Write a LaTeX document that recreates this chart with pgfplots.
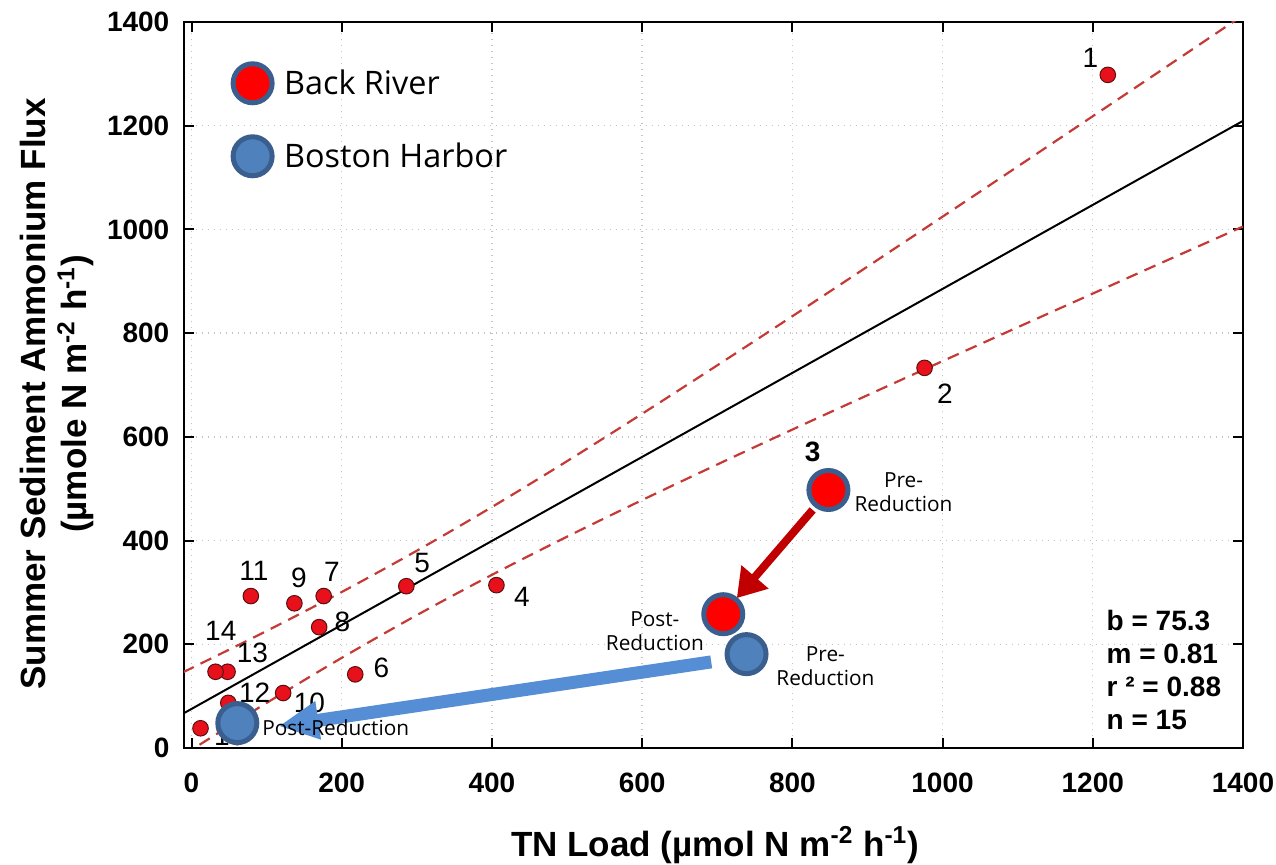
\documentclass[border=0pt]{standalone}
\usepackage{fontspec}
\setmainfont{Liberation Sans}
\newfontfamily\comic{Open Sans}
\usepackage{pgfplots}
\usepackage{pgfplotstable}
\pgfplotsset{compat=1.18}
\usetikzlibrary{arrows.meta}
\definecolor{ptred}{HTML}{E8101A}
\definecolor{ptedge}{HTML}{5A1010}
\definecolor{dashred}{HTML}{C43A36}
\definecolor{ringblue}{HTML}{3A5F8E}
\definecolor{harborblue}{HTML}{4F81BD}
\definecolor{arrowred}{HTML}{C00000}
\definecolor{arrowblue}{HTML}{558ED5}
\definecolor{gridgray}{HTML}{C4C4C4}

\pgfplotstableread{
x y
1220 1298
976 733
848 497
406 314
286 312
218 142
176 293
170 233
137 279
122 106
79 293
49 87
48 147
32 147
12 38
}\sites

\pgfplotstableread{
x upper lower
-10 147.0 -12.6
0 154.0 -3.4
100 225.7 86.9
200 300.8 173.8
300 380.4 256.2
400 464.7 333.9
500 553.1 407.5
600 644.5 478.1
700 737.9 546.7
800 832.6 614.0
900 928.3 680.3
1000 1024.6 746.0
1100 1121.3 811.3
1200 1218.3 876.3
1300 1315.5 941.1
1400 1413.0 1005.6
}\band

\begin{document}
\begin{tikzpicture}
\useasboundingbox (-92pt,-58.5pt) rectangle (546pt,374pt);
\begin{axis}[
  at={(0pt,0pt)}, anchor=south west,
  scale only axis, width=529.5pt, height=363pt,
  xmin=-10, xmax=1400, ymin=0, ymax=1400,
  xtick={0,200,...,1400}, ytick={0,200,...,1400},
  grid=major,
  grid style={gridgray, line width=0.7pt, dash pattern=on 0.7pt off 2.3pt},
  axis line style={line width=1.2pt},
  tick align=inside, major tick length=5pt,
  tick style={black, line width=1pt},
  /pgf/number format/assume math mode=true,
  /pgf/number format/1000 sep={},
  ticklabel style={font=\bfseries\fontsize{14}{16}\selectfont},
  xticklabel style={yshift=-9pt},
  yticklabel style={xshift=-3.8pt},
  xlabel={TN Load (µmol N m\textsuperscript{-2} h\textsuperscript{-1})},
  xlabel style={at={(axis description cs:0.5014,-0.1336)}, anchor=center,
    font=\bfseries\fontsize{17.5}{20}\selectfont},
  ylabel={Summer Sediment Ammonium Flux\\(µmole N m\textsuperscript{-2} h\textsuperscript{-1})},
  ylabel style={at={(axis description cs:-0.1195,0.4876)}, anchor=center,
    align=center, font=\bfseries\fontsize{17.5}{20.5}\selectfont},
  legend style={draw=none, fill=none, at={(axis description cs:0.046,0.943)},
    anchor=north west, inner sep=0pt, row sep=17pt,
    /tikz/every odd column/.append style={column sep=4pt},
    font=\comic\fontsize{16.2}{19}\selectfont},
  legend cell align=left,
]
% confidence band and regression line
\addplot[forget plot, dashred, line width=1.1pt, dash pattern=on 6pt off 3.8pt, smooth] table[x=x, y=upper] {\band};
\addplot[forget plot, dashred, line width=1.1pt, dash pattern=on 6pt off 3.8pt, smooth] table[x=x, y=lower] {\band};
\addplot[forget plot, black, line width=1pt] coordinates {(-10,67.2) (1400,1209.3)};
% sites
\addplot[forget plot, only marks, mark=*, mark size=3.9pt,
  mark options={fill=ptred, draw=ptedge, line width=0.5pt}] table[x=x, y=y] {\sites};
% site labels
\begin{scope}[font=\fontsize{14}{16}\selectfont]
\node at (axis cs:1197,1330) {1};
\node at (axis cs:1003,684) {2};
\node at (axis cs:440,291) {4};
\node at (axis cs:307,357) {5};
\node at (axis cs:253,154) {6};
\node at (axis cs:187,339) {7};
\node at (axis cs:201,243) {8};
\node at (axis cs:143,328) {9};
\node at (axis cs:157,87) {10};
\node at (axis cs:83,341) {11};
\node at (axis cs:84,106) {12};
\node at (axis cs:81,183) {13};
\node at (axis cs:39,226) {14};
\node at (axis cs:51,23) {15};
\end{scope}
\node[font=\bfseries\fontsize{14}{16}\selectfont] at (axis cs:827,571) {3};
% arrows
\draw[arrowred, line width=4pt, -{Triangle[width=17pt,length=14pt]}] (axis cs:827,459) -- (axis cs:726,289);
\draw[arrowblue, line width=6.5pt, -{Triangle[width=18pt,length=20pt]}] (axis cs:692,166) -- (axis cs:116,42);
% Back River and Boston Harbor, before and after the reduction
\addplot[only marks, mark=*, mark size=9.75pt,
  mark options={fill=red, draw=ringblue, line width=2.5pt}] coordinates {(848,497.5) (708,258)};
\addlegendentry{Back River}
\addplot[only marks, mark=*, mark size=9.75pt,
  mark options={fill=harborblue, draw=ringblue, line width=2.5pt}] coordinates {(739,181) (61,48)};
\addlegendentry{Boston Harbor}
% annotations
\begin{scope}[font=\comic\fontsize{10.4}{12}\selectfont, align=center]
\node at (axis cs:948,494) {Pre-\\Reduction};
\node at (axis cs:617,225) {Post-\\Reduction};
\node at (axis cs:844,158) {Pre-\\Reduction};
\node at (axis cs:192,39) {Post-Reduction};
\end{scope}
\node[anchor=base west, align=left, inner sep=0pt,
  font=\bfseries\fontsize{14}{16.5}\selectfont] at (axis cs:1218,36.6)
  {b = 75.3\\m = 0.81\\r ² = 0.88\\n = 15};
\end{axis}
\end{tikzpicture}
\end{document}
